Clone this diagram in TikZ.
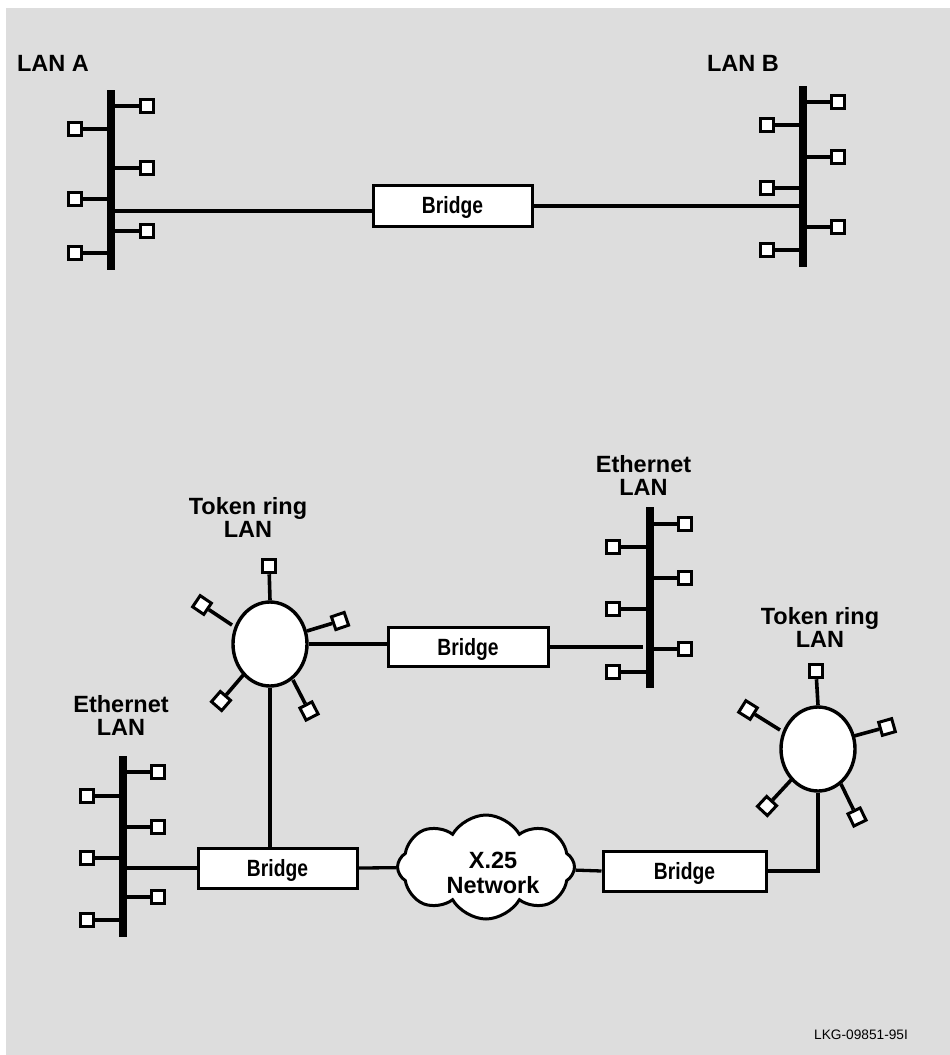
\documentclass[tikz,border=0pt]{standalone}
\usepackage{fontspec}
\usepackage{graphicx}
\setmainfont{Liberation Sans}
\usetikzlibrary{shapes.geometric,shapes.symbols}
\definecolor{bg}{RGB}{221,221,221}
\begin{document}
\begin{tikzpicture}[x=1pt,y=-1pt,
  stn/.style={draw,fill=white,line width=3pt,minimum size=13.5pt,inner sep=0pt,rectangle},
  busbar/.style={fill=black,minimum width=8.5pt,minimum height=181pt,inner sep=0pt,rectangle},
  wire/.style={line width=3.3pt},
  rwire/.style={line width=3.6pt},
  brg/.style={draw,fill=white,line width=3pt,inner sep=0pt,text height=16.5pt,text depth=0pt,font=\bfseries\fontsize{23.5}{25}\selectfont},
  lbl/.style={font=\bfseries\fontsize{23.5}{23}\selectfont,align=center,inner sep=0pt,anchor=north},
  ring/.style={draw,fill=white,ellipse,line width=3.4pt,minimum width=74pt,minimum height=84pt,inner sep=0pt}]
\useasboundingbox (0,0) rectangle (950,1055);
\fill[bg] (6,8) rectangle (950,1055);

% ---------- top: LAN A -- Bridge -- LAN B ----------
\node[lbl] (lanA) at (53,55.5) {LAN A};
\node[lbl] (lanB) at (743,55.5) {LAN B};
\node[busbar,minimum height=180pt] (busA) at (111,180) {};
\node[busbar] (busB) at (803,176.5) {};
\node[brg,minimum width=159pt,minimum height=41pt] (bT) at (452.5,205.5) {\scalebox{0.82}[1]{Bridge}};

\foreach \n/\x/\y in {a1/147/106,a2/147/168,a3/147/231,a4/75/129,a5/75/199,a6/75/253}{
  \node[stn] (\n) at (\x,\y) {};
  \draw[wire] (\n) -- (\n -| busA);
}
\foreach \n/\x/\y in {b1/838/102,b2/838/157,b3/838/227,b4/767/125,b5/767/188,b6/767/250}{
  \node[stn] (\n) at (\x,\y) {};
  \draw[wire] (\n) -- (\n -| busB);
}
\coordinate (tapA) at (111,211);
\coordinate (tapB) at (803,206);
\draw[wire] (tapA) -- (tapA -| bT.west);
\draw[wire] (tapB -| bT.east) -- (tapB);

% ---------- bottom ----------
\node[lbl] (tr1lbl) at (248,497) {Token ring\\LAN};
\node[lbl] (etrlbl) at (643.5,455.5) {Ethernet\\LAN};
\node[lbl] (ebllbl) at (121,695.5) {Ethernet\\LAN};
\node[lbl] (tr2lbl) at (820,607.5) {Token ring\\LAN};

\node[busbar] (ethTR) at (650,597.5) {};
\node[busbar] (ethBL) at (123,846.5) {};
\foreach \n/\x/\y in {c1/685/524,c2/685/578,c3/685/649,c4/613/547,c5/613/609,c6/613/672}{
  \node[stn] (\n) at (\x,\y) {};
  \draw[wire] (\n) -- (\n -| ethTR);
}
\foreach \n/\x/\y in {d1/158/772,d2/158/827,d3/158/897,d4/87/796,d5/87/858,d6/87/920}{
  \node[stn] (\n) at (\x,\y) {};
  \draw[wire] (\n) -- (\n -| ethBL);
}

\node[ring] (ring1) at (270,644) {};
\node[ring] (ring2) at (818,749) {};

% ring 1 stations
\node[stn] (r1s1) at (269,566) {};
\node[stn,rotate=146] (r1s2) at (202,605) {};
\node[stn,rotate=19] (r1s3) at (340,621) {};
\node[stn,rotate=49] (r1s4) at (221,701) {};
\node[stn,rotate=27] (r1s5) at (309,711) {};
\coordinate (r1p2) at (232,625);
\coordinate (r1p3) at (307,631);
\coordinate (r1p4) at (245,673);
\coordinate (r1p5) at (293,680);
\draw[rwire] (ring1.north) -- (r1s1);
\draw[rwire] (r1p2) -- (r1s2);
\draw[rwire] (r1p3) -- (r1s3);
\draw[rwire] (r1p4) -- (r1s4);
\draw[rwire] (r1p5) -- (r1s5);

% ring 2 stations
\node[stn] (r2s1) at (816,671) {};
\node[stn,rotate=148] (r2s2) at (748,710) {};
\node[stn,rotate=16] (r2s3) at (887,727) {};
\node[stn,rotate=47] (r2s4) at (767,806) {};
\node[stn,rotate=26] (r2s5) at (857,817) {};
\coordinate (r2p2) at (780,730);
\coordinate (r2p3) at (854,736);
\coordinate (r2p4) at (792,779);
\coordinate (r2p5) at (841,784);
\draw[rwire] (ring2.north) -- (r2s1);
\draw[rwire] (r2p2) -- (r2s2);
\draw[rwire] (r2p3) -- (r2s3);
\draw[rwire] (r2p4) -- (r2s4);
\draw[rwire] (r2p5) -- (r2s5);

% bridges
\node[brg,minimum width=160pt,minimum height=39pt] (bM) at (468,647) {\scalebox{0.82}[1]{Bridge}};
\node[brg,minimum width=159pt,minimum height=40pt] (bL) at (277.5,868) {\scalebox{0.82}[1]{Bridge}};
\node[brg,minimum width=163pt,minimum height=40pt] (bR) at (684.5,871) {\scalebox{0.82}[1]{Bridge}};

% cloud
\node[cloud,draw,fill=white,line width=3pt,cloud puffs=8,cloud puff arc=120,aspect=1.7,
      minimum width=177pt,minimum height=104pt,inner sep=0pt] (cloud) at (486,867) {};
\node[lbl,font=\bfseries\fontsize{23.5}{25}\selectfont] (x25) at (493,852) {X.25\\Network};

% connectors
\draw[wire] (ring1.east) -- (ring1.east -| bM.west);
\draw[wire] (bM.east) -- ([xshift=-3pt]bM.east -| ethTR.west);
\draw[wire] (ring1.south) -- (ring1.south |- bL.north);
\draw[wire] (ethBL |- bL.west) -- (bL.west);
\draw[wire] (bL.east) -- (cloud);
\draw[wire] (cloud) -- (bR.west);
\draw[wire] (bR.east) -| (ring2.south);

\node[anchor=base west,inner sep=0pt,font=\fontsize{13.7}{15}\selectfont] (code) at (814,1039) {LKG-09851-95I};
\end{tikzpicture}
\end{document}
